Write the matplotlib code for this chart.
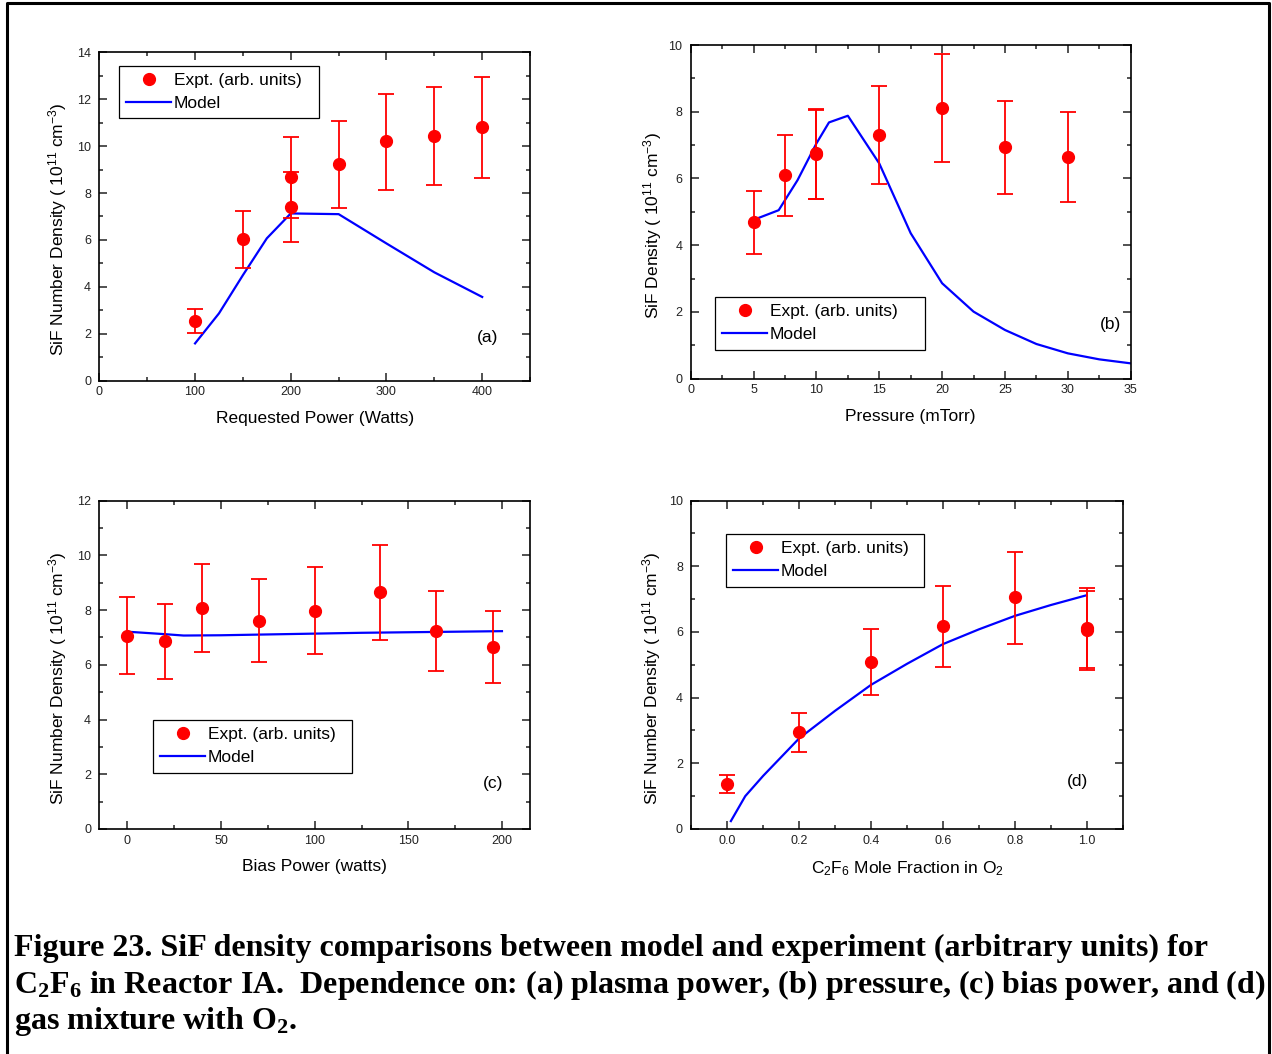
import matplotlib
matplotlib.use("Agg")
import matplotlib.pyplot as plt
from matplotlib.lines import Line2D
from matplotlib.ticker import MultipleLocator

plt.rcParams['font.family'] = ['Liberation Sans', 'DejaVu Sans']
plt.rcParams['mathtext.fontset'] = 'custom'
plt.rcParams['mathtext.rm'] = 'Liberation Sans'
plt.rcParams['mathtext.it'] = 'Liberation Sans:italic'
plt.rcParams['mathtext.bf'] = 'Liberation Serif:bold'

RED = '#ff0000'
BLUE = '#0000ff'

# (a) plasma power
a_x = [100, 150, 200, 200, 250, 300, 350, 400]
a_y = [2.56, 6.03, 8.68, 7.42, 9.24, 10.20, 10.42, 10.80]
a_lo = [2.05, 4.82, 6.95, 5.91, 7.38, 8.13, 8.34, 8.66]
a_hi = [3.07, 7.25, 10.40, 8.90, 11.09, 12.24, 12.51, 12.96]
a_mx = [100, 125, 150, 175, 200, 250, 300, 350, 400]
a_my = [1.59, 2.87, 4.50, 6.07, 7.13, 7.10, 5.85, 4.62, 3.57]

# (b) pressure
b_x = [5, 7.5, 10, 10, 15, 20, 25, 30]
b_y = [4.69, 6.09, 6.72, 6.75, 7.29, 8.11, 6.93, 6.65]
b_lo = [3.75, 4.89, 5.38, 5.40, 5.84, 6.49, 5.54, 5.30]
b_hi = [5.62, 7.31, 8.06, 8.09, 8.76, 9.73, 8.32, 7.98]
b_mx = [5, 7, 8.5, 10, 11, 12.5, 15, 17.5, 20, 22.5, 25, 27.5, 30, 32.5, 35]
b_my = [4.76, 5.05, 5.95, 7.05, 7.68, 7.88, 6.45, 4.36, 2.86, 2.01, 1.46, 1.04, 0.76, 0.58, 0.46]

# (c) bias power
c_x = [0, 20, 40, 70, 100, 135, 165, 195]
c_y = [7.07, 6.87, 8.09, 7.61, 7.98, 8.66, 7.22, 6.64]
c_lo = [5.67, 5.48, 6.46, 6.09, 6.38, 6.91, 5.79, 5.32]
c_hi = [8.48, 8.24, 9.70, 9.14, 9.58, 10.39, 8.70, 7.98]
c_mx = [0, 20, 30, 50, 75, 100, 125, 150, 175, 200]
c_my = [7.21, 7.12, 7.07, 7.08, 7.11, 7.14, 7.17, 7.19, 7.21, 7.23]

# (d) C2F6 fraction
d_x = [0.0, 0.2, 0.4, 0.6, 0.8, 1.0, 1.0]
d_y = [1.38, 2.95, 5.09, 6.17, 7.06, 6.12, 6.05]
d_lo = [1.11, 2.35, 4.07, 4.93, 5.63, 4.89, 4.84]
d_hi = [1.65, 3.53, 6.10, 7.40, 8.45, 7.34, 7.26]
d_mx = [0.01, 0.05, 0.1, 0.2, 0.3, 0.4, 0.5, 0.6, 0.7, 0.8, 0.9, 1.0]
d_my = [0.24, 1.00, 1.62, 2.76, 3.60, 4.39, 5.03, 5.63, 6.08, 6.49, 6.82, 7.12]

ylab_nd = r'SiF Number Density ( 10$^{11}$ cm$^{-3}$)'
ylab_d = r'SiF Density ( 10$^{11}$ cm$^{-3}$)'

panels = [
    dict(pos=[0.0781, 0.6388, 0.3386, 0.3116], x=a_x, y=a_y, lo=a_lo, hi=a_hi, mx=a_mx, my=a_my,
         xlim=(0, 450), ylim=(0, 14), xmaj=100, xmin=50, xlabel='Requested Power (Watts)',
         ylabel=ylab_nd, tag='(a)', tagpos=(0.902, 0.133), leg=(0.0936, 0.9377, 0.1572), ylx=-0.07),
    dict(pos=[0.5430, 0.6407, 0.3459, 0.3166], x=b_x, y=b_y, lo=b_lo, hi=b_hi, mx=b_mx, my=b_my,
         xlim=(0, 35), ylim=(0, 10), xmaj=5, xmin=2.5, xlabel='Pressure (mTorr)',
         ylabel=ylab_d, tag='(b)', tagpos=(0.953, 0.161), leg=(0.5621, 0.7182, 0.1651), ylx=-0.06),
    dict(pos=[0.0781, 0.2135, 0.3386, 0.3115], x=c_x, y=c_y, lo=c_lo, hi=c_hi, mx=c_mx, my=c_my,
         xlim=(-15, 215), ylim=(0, 12), xmaj=50, xmin=25, xlabel='Bias Power (watts)',
         ylabel=ylab_nd, tag='(c)', tagpos=(0.914, 0.140), leg=(0.1203, 0.3169, 0.1564), ylx=-0.07),
    dict(pos=[0.5435, 0.2135, 0.3391, 0.3115], x=d_x, y=d_y, lo=d_lo, hi=d_hi, mx=d_mx, my=d_my,
         xlim=(-0.1, 1.1), ylim=(0, 10), xmaj=0.2, xmin=0.1,
         xlabel=r'C$_2$F$_6$ Mole Fraction in O$_2$',
         ylabel=ylab_nd, tag='(d)', tagpos=(0.896, 0.146), leg=(0.5705, 0.4934, 0.1559), ylx=-0.066),
]

fig = plt.figure(figsize=(12.72, 10.54), dpi=100)

for p in panels:
    ax = fig.add_axes(p['pos'])
    yerr = [[v - l for v, l in zip(p['y'], p['lo'])], [h - v for v, h in zip(p['y'], p['hi'])]]
    ax.errorbar(p['x'], p['y'], yerr=yerr, fmt='o', color=RED, ecolor=RED, ms=8.5,
                elinewidth=1.3, capsize=5.5, capthick=1.3, zorder=3)
    ax.plot(p['mx'], p['my'], color=BLUE, lw=1.6, zorder=2)
    ax.set_xlim(*p['xlim'])
    ax.set_ylim(*p['ylim'])
    ax.xaxis.set_major_locator(MultipleLocator(p['xmaj']))
    ax.xaxis.set_minor_locator(MultipleLocator(p['xmin']))
    ax.yaxis.set_major_locator(MultipleLocator(2))
    ax.yaxis.set_minor_locator(MultipleLocator(1))
    if p['tag'] == '(d)':
        ax.xaxis.set_major_formatter(matplotlib.ticker.FormatStrFormatter('%.1f'))
    ax.tick_params(which='both', direction='in', top=True, right=True, width=1.1, colors='#222222')
    ax.tick_params(which='major', length=5.5)
    ax.tick_params(which='minor', length=3)
    ax.tick_params(axis='x', pad=4, labelsize=9)
    ax.tick_params(axis='y', pad=6, labelsize=9)
    for s in ax.spines.values():
        s.set_linewidth(1.2)
    ax.set_xlabel(p['xlabel'], fontsize=12.5)
    ax.set_ylabel(p['ylabel'], fontsize=12.5)
    ax.xaxis.set_label_coords(0.5, -0.092)
    ax.yaxis.set_label_coords(p['ylx'], 0.46)
    ax.text(p['tagpos'][0], p['tagpos'][1], p['tag'], transform=ax.transAxes,
            ha='center', va='center', fontsize=12.5)
    handles = [Line2D([], [], ls='none', marker='o', color=RED, ms=8.5),
               Line2D([], [], color=BLUE, lw=1.6)]
    lx, ly, lw = p['leg']
    leg = ax.legend(handles, ['Expt. (arb. units)', 'Model'], loc='upper left',
                    bbox_to_anchor=(lx, ly - 0.06, lw, 0.06), bbox_transform=fig.transFigure,
                    mode='expand', borderaxespad=0, fontsize=12.5, fancybox=False,
                    framealpha=1, edgecolor='black', handlelength=2.6, handletextpad=0.15,
                    borderpad=0.42, labelspacing=0.45)
    leg.get_frame().set_linewidth(0.9)

# caption
cap_kw = dict(fontsize=23, fontweight='bold', family=['Liberation Serif', 'DejaVu Serif'],
              ha='left', va='baseline')
fig.text(14 / 1272, 1 - 956 / 1054,
         'Figure 23. SiF density comparisons between model and experiment (arbitrary units) for', **cap_kw)
fig.text(14 / 1272, 1 - 992.7 / 1054,
         r'C$\mathbf{_2}$F$\mathbf{_6}$ in Reactor IA.  Dependence on: (a) plasma power, (b) pressure, (c) bias power, and (d)',
         **cap_kw)
fig.text(14 / 1272, 1 - 1029.3 / 1054, r'gas mixture with O$\mathbf{_2}$.', **cap_kw)

# page frame
fig.add_artist(Line2D([7 / 1272, 7 / 1272, 1269 / 1272, 1269 / 1272], [0, 1 - 3 / 1054, 1 - 3 / 1054, 0],
                      transform=fig.transFigure, color='black', lw=2.2))

fig.savefig('out.png', dpi=100)
